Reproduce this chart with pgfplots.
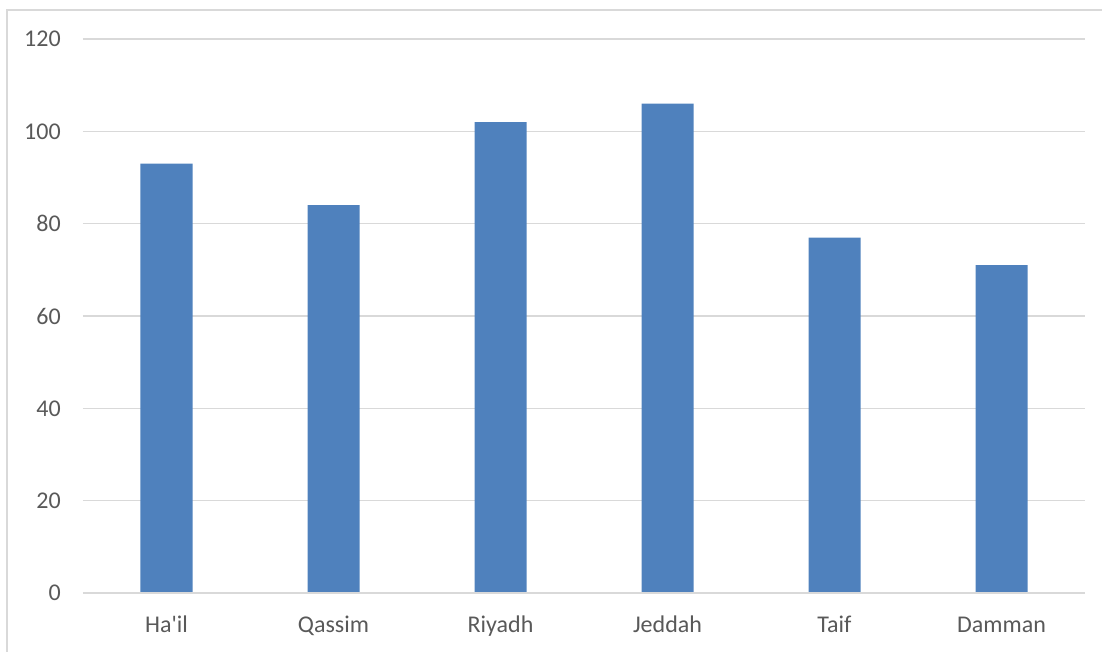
\documentclass[border=0pt]{standalone}
\usepackage{fontspec}
\setmainfont{Carlito}
\usepackage{pgfplots}
\pgfplotsset{compat=1.18}
\definecolor{barblue}{HTML}{4F81BD}
\definecolor{gridgray}{HTML}{D9D9D9}
\definecolor{txtgray}{HTML}{595959}
\begin{document}
\fontsize{18}{21.6}\selectfont
\begin{tikzpicture}
\path[use as bounding box] (-62.25pt,-44.25pt) rectangle (764.25pt,444.75pt);
\draw[gridgray, line width=1.3pt] (-57pt,-50pt) -- (-57pt,437.25pt) -- (770pt,437.25pt);
\begin{axis}[
  at={(0pt,0pt)}, anchor=south west,
  scale only axis,
  width=751.5pt, height=415.5pt,
  xmin=-0.5, xmax=5.5,
  ymin=0, ymax=120,
  ytick={0,20,...,120},
  xtick={0,1,2,3,4,5},
  xticklabels={Ha\textquotesingle il,Qassim,Riyadh,Jeddah,Taif,Damman},
  major tick length=0pt,
  axis line style={draw=none},
  axis x line*=bottom,
  axis y line*=left,
  ymajorgrids,
  grid style={gridgray, line width=1pt},
  tick label style={font=\fontsize{18}{21.6}\selectfont, text=txtgray},
  /pgf/number format/assume math mode=true,
  yticklabel style={anchor=east, inner sep=0pt, xshift=-16.5pt},
  xticklabel style={anchor=base, inner sep=0pt, yshift=-30pt},
  clip=false,
]
\addplot[ybar, bar width=39pt, fill=barblue, draw=none] coordinates {
  (0,93) (1,84) (2,102) (3,106) (4,77) (5,71)
};
\draw[gridgray, line width=1.2pt] (axis cs:-0.5,0) -- (axis cs:5.5,0);
\end{axis}
\end{tikzpicture}
\end{document}
